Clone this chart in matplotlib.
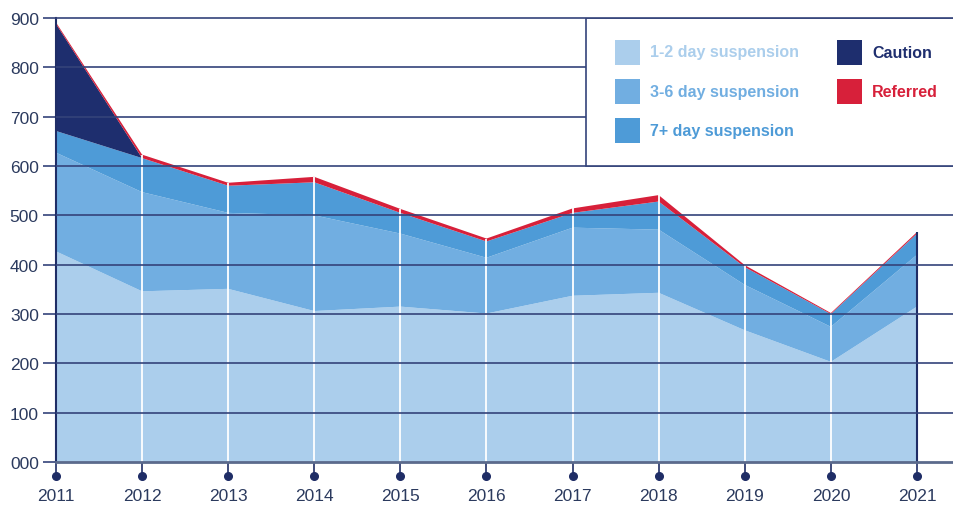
import matplotlib
matplotlib.use("Agg")
import matplotlib.pyplot as plt
from matplotlib.patches import Rectangle

plt.rcParams['font.family'] = ['Liberation Sans', 'DejaVu Sans']

years = [2011, 2012, 2013, 2014, 2015, 2016, 2017, 2018, 2019, 2020, 2021]
day_1_2 = [427, 346, 351, 306, 315, 301, 337, 343, 267, 203, 315]
day_3_6 = [200, 201, 154, 194, 148, 113, 138, 128, 92, 71, 105]
day_7_plus = [44, 69, 55, 67, 42, 33, 30, 57, 36, 26, 43]
caution = [217, 0, 0, 0, 0, 0, 0, 0, 0, 0, 0]
referred = [3, 7, 6, 11, 8, 6, 9, 13, 4, 2, 3]

labels = ["1-2 day suspension", "3-6 day suspension", "7+ day suspension", "Caution", "Referred"]
colors = ["#abceec", "#71aee1", "#4e9bd7", "#1e2e6e", "#d7203a"]
y_ticks = [0, 100, 200, 300, 400, 500, 600, 700, 800, 900]
y_labels = ["000", "100", "200", "300", "400", "500", "600", "700", "800", "900"]

navy = "#1f2d66"
grid_c = "#34437a"
text_c = "#2b3a5e"

W, H = 954, 506
fig = plt.figure(figsize=(W / 100, H / 100), dpi=100)
ax = fig.add_axes([56 / W, 43 / H, 898 / W, 444 / H])

ax.stackplot(years, day_1_2, day_3_6, day_7_plus, caution, referred, colors=colors, zorder=1, lw=0)

totals = [a + b + c + d + e for a, b, c, d, e in zip(day_1_2, day_3_6, day_7_plus, caution, referred)]
ax.vlines(years[1:-1], 0, totals[1:-1], color="white", lw=1.3, zorder=2)
ax.vlines(years[-1], 0, totals[-1], color=navy, lw=1.5, zorder=2)

# horizontal grid on top of the areas
for yv in y_ticks[1:-1]:
    ax.axhline(yv, color=grid_c, lw=1.2, zorder=3)

ax.set_xlim(2011, 2021.43)
ax.set_ylim(0, 900)

# legend box (white panel in the upper right)
ax.add_patch(Rectangle((2017.16, 600), 5, 300, facecolor="white", edgecolor=grid_c, lw=1.2, zorder=4))

ax.spines["right"].set_visible(False)
ax.spines["top"].set_color(grid_c)
ax.spines["top"].set_linewidth(1.2)
ax.spines["top"].set_zorder(6)
ax.spines["left"].set_color(navy)
ax.spines["left"].set_linewidth(1.5)
ax.spines["bottom"].set_color("#5b6a8c")
ax.spines["bottom"].set_linewidth(2)

ax.set_xticks(years)
ax.set_xticklabels([str(y) for y in years])
ax.set_yticks(y_ticks)
ax.set_yticklabels(y_labels)
ax.tick_params(axis="x", length=10, width=1.2, color=navy, pad=9, labelsize=12.5, labelcolor=text_c)
ax.tick_params(axis="y", length=9.4, width=1.2, color=grid_c, pad=3, labelsize=12.5, labelcolor=text_c)

# dots at the end of the x ticks
ax.plot(years, [-14 / 444] * len(years), "o", ms=5.5, color=navy,
        transform=ax.get_xaxis_transform(), clip_on=False, zorder=7)

# legend entries
legend_pos = [(615, 53), (615, 92.5), (615, 131.8), (837, 53), (837, 92.5)]
for (px, py), lab, col in zip(legend_pos, labels, colors):
    fig.add_artist(Rectangle((px / W, 1 - (py + 12.5) / H), 25 / W, 25 / H,
                             facecolor=col, edgecolor="none", transform=fig.transFigure, zorder=8))
    fig.text((px + 35) / W, 1 - py / H, lab, color=col, fontsize=11.5, fontweight="bold",
             va="center", ha="left", zorder=8)

fig.savefig("out.png", dpi=100)
